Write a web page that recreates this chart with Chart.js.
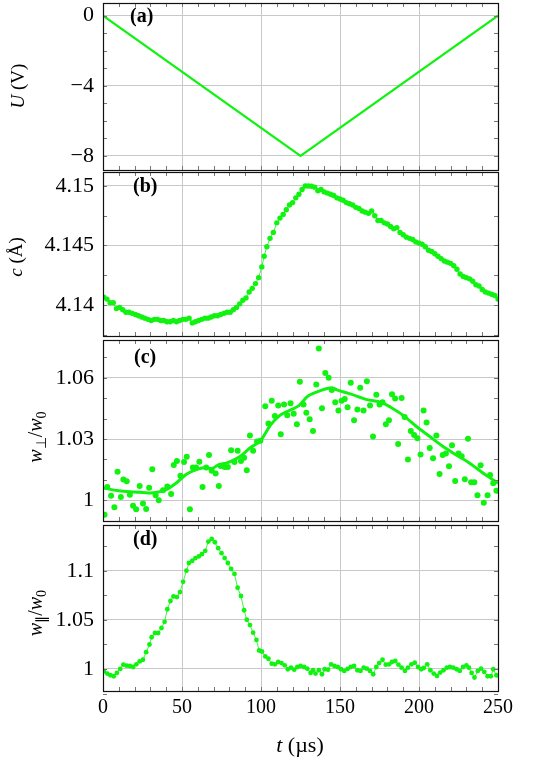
<!DOCTYPE html>
<html>
<head>
<meta charset="utf-8">
<script src="https://cdn.jsdelivr.net/npm/chart.js@4.4.1/dist/chart.umd.min.js"></script>
<style>
html,body{margin:0;padding:0;background:#fff;}
#wrap{position:relative;width:536px;height:761px;overflow:hidden;background:#fff;}
#wrap canvas{position:absolute;left:0;}
.lbl{position:absolute;font-family:"Liberation Serif",serif;color:#000;line-height:1;white-space:nowrap;z-index:5;}
.pl{font-weight:bold;font-size:20px;}
.yt{transform:translate(-50%,-50%) rotate(-90deg);}
.yt sub{font-size:0.7em;vertical-align:-0.3em;line-height:0;}
</style>
</head>
<body>
<div id="wrap">
  <canvas id="ca"></canvas>
  <canvas id="cb"></canvas>
  <canvas id="cc"></canvas>
  <canvas id="cd"></canvas>
  <div class="lbl pl" style="left:130px;top:5px;">(a)</div>
  <div class="lbl pl" style="left:133px;top:175px;">(b)</div>
  <div class="lbl pl" style="left:134px;top:346px;">(c)</div>
  <div class="lbl pl" style="left:133px;top:528px;">(d)</div>
  <div class="lbl yt" style="left:17px;top:86px;font-size:19px;"><i>U</i> (V)</div>
  <div class="lbl yt" style="left:15px;top:257px;font-size:19px;"><i>c</i> (Å)</div>
  <div class="lbl yt" style="left:35px;top:437px;font-size:20px;"><i>w</i><sub>⊥</sub>/<i>w</i><sub>0</sub></div>
  <div class="lbl yt" style="left:35px;top:613px;font-size:20px;"><i>w</i><sub>∥</sub>/<i>w</i><sub>0</sub></div>
  <div class="lbl" style="left:300px;top:745px;font-size:22px;transform:translate(-50%,-50%);"><i>t</i> (µs)</div>
</div>
<script>
// ---------- tick definitions ----------
const xTicks = [0, 50, 100, 150, 200, 250];
const xTickLabels = ['0', '50', '100', '150', '200', '250'];
const xMinor = [10, 20, 30, 40, 50, 60, 70, 80, 90, 100, 110, 120, 130, 140, 150, 160, 170, 180, 190, 200, 210, 220, 230, 240];

const yTicksA = [0, -4, -8];
const yLabelsA = ['0', '\u22124', '\u22128'];
const yMinorA = [0, -1, -2, -3, -4, -5, -6, -7, -8];

const yTicksB = [4.14, 4.145, 4.15];
const yLabelsB = ['4.14', '4.145', '4.15'];
const yMinorB = [4.1375, 4.14, 4.1425, 4.145, 4.1475, 4.15];

const yTicksC = [1, 1.03, 1.06];
const yLabelsC = ['1', '1.03', '1.06'];
const yMinorC = [0.99, 1.0, 1.01, 1.02, 1.03, 1.04, 1.05, 1.06, 1.07];

const yTicksD = [1, 1.05, 1.1];
const yLabelsD = ['1', '1.05', '1.1'];
const yMinorD = [0.975, 1.0, 1.025, 1.05, 1.075, 1.1, 1.125];

// ---------- data ----------
// (a) voltage ramp
const tA = [0, 125, 250];
const uA = [0, -8, 0];

// (b) lattice parameter c (Å)
const tB = [0.5, 2.5, 4.5, 6.5, 8.5, 10.5, 12.5, 14.5, 16.5, 18.5, 20.5, 22.5, 24.5, 26.5, 28.5, 30.5, 32.5, 34.5, 36.5, 38.5,
  40.5, 42.5, 44.5, 46.5, 48.5, 50.5, 52.5, 54.5, 56.5, 58.5, 60.5, 62.5, 64.5, 66.5, 68.5, 70.5, 72.5, 74.5, 76.5, 78.5,
  80.5, 82.5, 84.5, 86.5, 88.5, 90.5, 92.5, 94.5, 96.5, 98.5, 100.5, 102, 103.7, 105.7, 107.8, 110, 112, 114, 116, 118,
  120, 122, 124, 126, 128, 130, 132, 134, 136, 138, 140, 142, 144, 146, 148, 150, 152, 154, 156, 158,
  160, 162, 164, 166, 168, 170, 172, 174, 176, 178, 180, 182, 184, 186, 188, 190, 192, 194, 196, 198,
  200, 202, 204, 206, 208, 210, 212, 214, 216, 218, 220, 222, 224, 226, 228, 230, 232, 234, 236, 238,
  240, 242, 244, 246, 248, 250];
const cB = [4.14066, 4.1405, 4.1402, 4.1402, 4.1397, 4.1398, 4.1396, 4.1394, 4.1394, 4.1393, 4.1392, 4.1391, 4.1390, 4.1389, 4.1388, 4.1387, 4.1388, 4.1388, 4.1387, 4.1387,
  4.1386, 4.1386, 4.1387, 4.1386, 4.1387, 4.1388, 4.1388, 4.1389, 4.1385, 4.1386, 4.1387, 4.1388, 4.1389, 4.1389, 4.1390, 4.1391, 4.1391, 4.1392, 4.1393, 4.1394,
  4.1394, 4.1396, 4.1398, 4.1401, 4.1404, 4.1406, 4.1411, 4.1414, 4.1418, 4.1423, 4.1432, 4.1441, 4.1449, 4.1456, 4.1461, 4.1469, 4.1473, 4.1476, 4.1480, 4.1484,
  4.1486, 4.1490, 4.1493, 4.1497, 4.1500, 4.1500, 4.14997, 4.1499, 4.1496, 4.1497, 4.1495, 4.1494, 4.1493, 4.1492, 4.1490, 4.1489, 4.1488, 4.1486, 4.1485, 4.1484,
  4.1482, 4.1481, 4.1479, 4.1478, 4.1477, 4.1479, 4.1475, 4.1471, 4.1471, 4.1469, 4.1468, 4.1466, 4.1464, 4.1465, 4.1461, 4.1459, 4.1457, 4.1456, 4.1455, 4.1453,
  4.1452, 4.1451, 4.1449, 4.1446, 4.1445, 4.1443, 4.1441, 4.1439, 4.1437, 4.1436, 4.1435, 4.1433, 4.1430, 4.1426, 4.1424, 4.1423, 4.1422, 4.1420, 4.1417, 4.1416,
  4.1413, 4.1411, 4.1410, 4.1409, 4.1408, 4.1405];

// (c) w_perp / w_0 scatter
const tC = [1, 2.7, 5.1, 7.2, 9.2, 11.3, 12.9, 15, 17, 19, 21, 23.2, 25.3, 27.3, 29.2, 31.2, 33.3, 35.3, 38, 40.7,
  43.1, 44.8, 46.8, 49, 51.3, 53, 55, 56.9, 58.9, 61, 63, 65.3, 67.1, 68.8, 71.3, 73.3, 74.5, 77, 79, 81.1,
  83.2, 85.2, 87.3, 89.3, 91, 93, 95, 97.5, 99.6, 102.7, 104.7, 106.8, 108.8, 110.9, 112.5, 114.6, 116.6, 118.7, 120.7, 122.7,
  124.6, 126.9, 128.7, 130.8, 132.9, 135, 136.6, 138.6, 140.7, 142.8, 144.8, 147, 149, 151, 153, 154.8, 156.8, 158.9, 161, 162.8,
  164.9, 167, 169, 170.9, 173, 175, 176.9, 179, 181, 182.9, 184.9, 186.8, 189, 190.9, 193, 194.8, 196.9, 199, 201, 202.9,
  204.8, 206.8, 208.9, 211, 213, 215, 217, 219, 220.9, 222.9, 225, 227, 229, 231, 233, 235, 237, 239, 241, 243.4,
  245, 247, 249];
const wPerp = [0.9928, 1.0064, 1.0022, 0.9965, 1.0139, 1.0016, 1.0101, 1.0093, 1.0026, 0.9973, 0.9955, 1.0069, 0.9984, 0.9957, 1.0061, 1.0152, 1.0024, 1.0000, 1.0048, 1.0067,
  1.0030, 1.0173, 1.0192, 1.0120, 1.0187, 1.0213, 0.9955, 1.0160, 1.0160, 1.0189, 1.0064, 1.0160, 1.0221, 1.0144, 1.0131, 1.0069, 1.0168, 1.0163, 1.0163, 1.0245,
  1.0187, 1.0243, 1.0192, 1.0208, 1.0147, 1.0317, 1.0243, 1.0288, 1.0291, 1.0461, 1.0376, 1.0488, 1.0413, 1.0464, 1.0323, 1.0469, 1.0416, 1.0475, 1.0424, 1.0373,
  1.0581, 1.0469, 1.0429, 1.0397, 1.0339, 1.0568, 1.0744, 1.0451, 1.0624, 1.0600, 1.0541, 1.0480, 1.0440, 1.0488, 1.0496, 1.0456, 1.0576, 1.0392, 1.0445, 1.0552,
  1.0440, 1.0584, 1.0464, 1.0312, 1.0517, 1.0469, 1.0480, 1.0373, 1.0392, 1.0520, 1.0499, 1.0275, 1.0501, 1.0408, 1.0200, 1.0339, 1.0320, 1.0304, 1.0224, 1.0440,
  1.0381, 1.0256, 1.0205, 1.0317, 1.0128, 1.0221, 1.0229, 1.0166, 1.0269, 1.0094, 1.0229, 1.0216, 1.0102, 1.0301, 1.0088, 1.0088, 1.0024, 1.0171, 0.9987, 1.0024,
  1.0123, 1.0083, 1.0046];

// (c) smoothed curve
const tCfit = [0, 10, 20, 30, 35, 40, 47, 53, 60, 65, 69, 73, 79, 87, 93, 99.5, 106, 112, 118, 124,
  130, 140, 145, 148, 157, 167, 176, 182, 190, 198.6, 206.8, 215, 223, 231.6, 240, 246, 250];
const wPerpFit = [1.0060, 1.0046, 1.0040, 1.0035, 1.0040, 1.0051, 1.0088, 1.0128, 1.0152, 1.0160, 1.0155, 1.0173, 1.0184, 1.0216, 1.0256, 1.0290, 1.0368, 1.0416, 1.0440, 1.0464,
  1.0512, 1.0544, 1.0552, 1.0541, 1.0520, 1.0493, 1.0480, 1.0456, 1.0416, 1.0360, 1.0312, 1.0264, 1.0224, 1.0184, 1.0136, 1.0104, 1.0083];

// (d) w_par / w_0
const tD = [0.6, 2.7, 4.7, 6.8, 8.8, 10.9, 12.9, 15, 17, 19.1, 21.1, 23.2, 25.3, 27.3, 29.4, 30.8, 32.9, 34.9, 37, 39,
  40.7, 42.7, 44.6, 46.8, 48.7, 50.7, 52.8, 54.4, 56.5, 58.5, 60.6, 62.6, 64.7, 66.7, 68.8, 70.8, 72.9, 75, 77, 79,
  81.1, 83.2, 85.2, 87.3, 89.3, 91, 93, 95, 97.1, 98.8, 100.6, 102.7, 104.7, 106.8, 108.8, 110.9, 113, 115, 117, 119,
  121, 123, 125, 127.3, 129.3, 131.4, 132.9, 134.5, 136.6, 138.6, 140.3, 142.4, 144.4, 146.5, 148.6, 150.6, 152.7, 154.8, 156.8, 158.9,
  161, 163, 165, 167, 169, 171, 173, 174.8, 176.9, 179, 181, 182.9, 185, 187, 189, 191.1, 193, 195.2, 197.3, 199.4,
  201.4, 203, 205.2, 207.2, 209.3, 211.4, 213.4, 215.5, 217.6, 219.6, 221.7, 223.8, 225.8, 227.9, 230, 231.6, 233.3, 235.1, 237.2, 239.3,
  241.3, 243.4, 245.5, 247, 249];
const wPar = [0.9976, 0.9953, 0.9936, 0.9926, 0.9960, 1.0000, 1.0044, 1.0034, 1.0030, 1.0020, 1.0047, 1.0077, 1.0094, 1.0171, 1.0249, 1.0323, 1.0366, 1.0366, 1.0417, 1.0480,
  1.0608, 1.0692, 1.0739, 1.0732, 1.0783, 1.0887, 1.1001, 1.1079, 1.1102, 1.1129, 1.1146, 1.1169, 1.1203, 1.1297, 1.1324, 1.1290, 1.1230, 1.1179, 1.1129, 1.1079,
  1.1018, 1.0968, 1.0827, 1.0743, 1.0598, 1.0501, 1.0447, 1.0370, 1.0296, 1.0188, 1.0178, 1.0128, 1.0104, 1.0054, 1.0047, 1.0071, 1.0060, 1.0037, 0.9997, 1.0013,
  0.9993, 1.0020, 1.0030, 1.0020, 1.0003, 0.9960, 0.9987, 0.9953, 0.9987, 0.9946, 0.9997, 0.9993, 1.0047, 1.0030, 1.0020, 0.9997, 0.9980, 1.0000, 1.0020, 1.0030,
  0.9987, 0.9980, 1.0013, 1.0003, 0.9980, 0.9946, 1.0020, 1.0060, 1.0094, 1.0044, 1.0047, 1.0071, 1.0081, 1.0044, 1.0013, 0.9980, 1.0013, 1.0047, 1.0064, 1.0020,
  0.9997, 1.0010, 1.0047, 0.9987, 0.9953, 0.9929, 0.9963, 0.9987, 1.0013, 1.0020, 1.0013, 0.9997, 0.9980, 1.0020, 1.0037, 1.0013, 0.9960, 0.9913, 0.9980, 1.0003,
  0.9970, 0.9926, 0.9926, 0.9997, 0.9936];

// ---------- drawing ----------
const GREEN = '#10f210';
const FONT = "'Liberation Serif', serif";
const pts = (xs, ys) => xs.map((x, i) => ({ x: x, y: ys[i] }));

const framePlugin = {
  id: 'frame',
  afterDatasetsDraw(chart, args, opts) {
    const { ctx, chartArea: a, scales } = chart;
    const x = scales.x, y = scales.y;
    ctx.save();
    ctx.lineWidth = 1;
    ctx.strokeStyle = '#777';
    ctx.beginPath();
    (opts.xMinor || []).forEach(v => {
      const px = Math.round(x.getPixelForValue(v)) + 0.5;
      ctx.moveTo(px, a.top); ctx.lineTo(px, a.top + 4);
      ctx.moveTo(px, a.bottom); ctx.lineTo(px, a.bottom - 4);
    });
    (opts.yMinor || []).forEach(v => {
      const py = Math.round(y.getPixelForValue(v)) + 0.5;
      ctx.moveTo(a.left, py); ctx.lineTo(a.left + 4, py);
      ctx.moveTo(a.right, py); ctx.lineTo(a.right - 4, py);
    });
    ctx.stroke();
    ctx.strokeStyle = '#111';
    ctx.lineWidth = 1.2;
    ctx.strokeRect(Math.round(a.left) + 0.5, Math.round(a.top) + 0.5, Math.round(a.right - a.left), Math.round(a.bottom - a.top));
    ctx.restore();
  }
};

function panel(id, top, height, padTop, padBottom, yMin, yMax, yTicks, yLabels, yMinor, datasets, showX, xAxisH) {
  const cv = document.getElementById(id);
  cv.style.top = top + 'px';
  cv.width = 536; cv.height = height;
  cv.style.width = '536px'; cv.style.height = height + 'px';
  return new Chart(cv, {
    type: 'scatter',
    data: { datasets: datasets },
    options: {
      responsive: false,
      animation: false,
      devicePixelRatio: 1,
      layout: { padding: { left: 0, right: 38, top: padTop, bottom: padBottom } },
      plugins: {
        legend: { display: false },
        tooltip: { enabled: false },
        frame: { xMinor: xMinor, yMinor: yMinor }
      },
      scales: {
        x: {
          type: 'linear', min: 0, max: 250, position: 'bottom',
          afterBuildTicks: s => { s.ticks = xTicks.map(v => ({ value: v })); },
          afterFit: s => { s.height = showX ? xAxisH : 0; s.paddingLeft = 0; s.paddingRight = 0; },
          grid: { color: '#c8c8c8', lineWidth: 1, drawTicks: false },
          border: { display: false },
          ticks: {
            display: showX, padding: 5, color: '#000', maxRotation: 0, autoSkip: false,
            font: { family: FONT, size: 20 },
            callback: (v, i) => xTickLabels[i]
          }
        },
        y: {
          type: 'linear', min: yMin, max: yMax, position: 'left',
          afterBuildTicks: s => { s.ticks = yTicks.map(v => ({ value: v })); },
          afterFit: s => { s.width = 103; s.paddingTop = 0; s.paddingBottom = 0; },
          grid: { color: '#c8c8c8', lineWidth: 1, drawTicks: false },
          border: { display: false },
          ticks: {
            padding: 9, color: '#000',
            font: { family: FONT, size: 22 },
            callback: (v, i) => yLabels[i]
          }
        }
      }
    },
    plugins: [framePlugin]
  });
}

panel('ca', 0, 172, 3, 2, -8.8, 0.72, yTicksA, yLabelsA, yMinorA, [
  { data: pts(tA, uA), showLine: true, borderColor: GREEN, borderWidth: 2.2, pointRadius: 0, tension: 0 }
], false, 0);

panel('cb', 168, 172, 2, 2, 4.1374, 4.15117, yTicksB, yLabelsB, yMinorB, [
  { data: pts(tB, cB), showLine: true, borderColor: GREEN, borderWidth: 0.8, pointRadius: 2.7,
    pointBackgroundColor: GREEN, pointBorderWidth: 0, tension: 0 }
], false, 0);

panel('cc', 336, 189, 2, 2, 0.98977, 1.07858, yTicksC, yLabelsC, yMinorC, [
  { data: pts(tCfit, wPerpFit), showLine: true, borderColor: GREEN, borderWidth: 3, pointRadius: 0, tension: 0.3 },
  { data: pts(tC, wPerp), showLine: false, pointRadius: 3, pointBackgroundColor: GREEN, pointBorderWidth: 0 }
], false, 0);

panel('cd', 521, 240, 2, 0, 0.97757, 1.14658, yTicksD, yLabelsD, yMinorD, [
  { data: pts(tD, wPar), showLine: true, borderColor: GREEN, borderWidth: 0.8, pointRadius: 2.4,
    pointBackgroundColor: GREEN, pointBorderWidth: 0, tension: 0 }
], true, 70);
</script>
</body>
</html>
